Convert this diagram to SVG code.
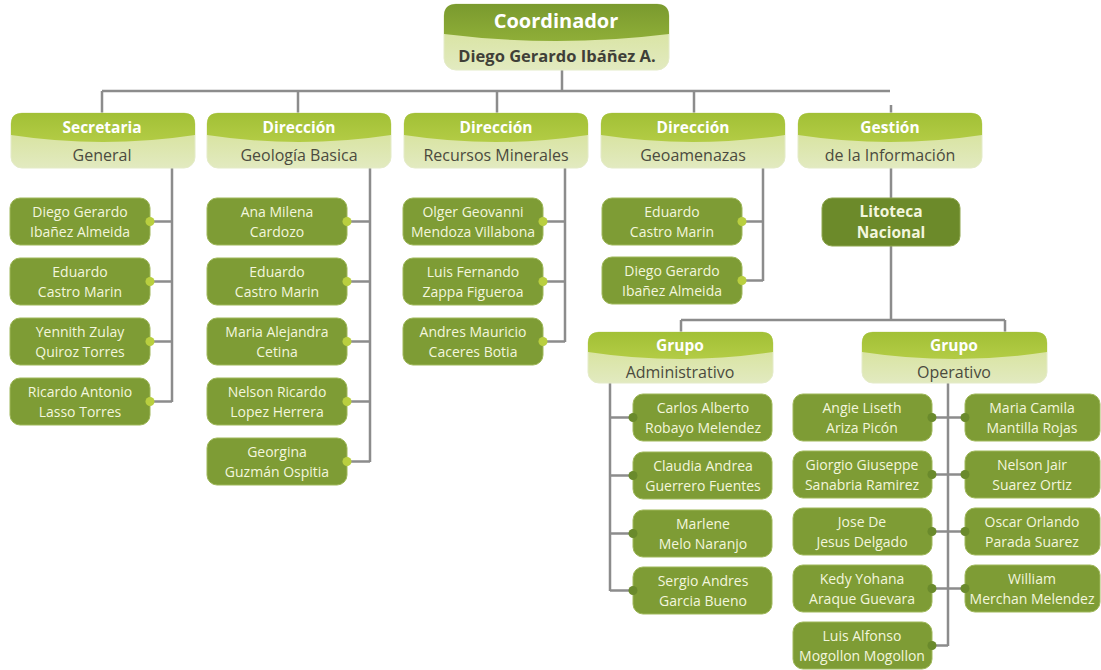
<svg xmlns="http://www.w3.org/2000/svg" xmlns:xlink="http://www.w3.org/1999/xlink" width="1101" height="670" viewBox="0 0 1101 670">
  <style>
    .bg { fill: #ffffff; }
    .wire { fill: none; stroke: #8c8c8c; stroke-width: 2.5; }
    .box { fill: #7e9c35; stroke: #9fb85a; stroke-width: 1; }
    .box-dark { fill: #6c8a2a; stroke: #8ea64e; stroke-width: 1; }
    .hdr-base { fill: url(#paleFill); stroke: #e4ebc8; stroke-width: 1; }
    .hdr-band { fill: url(#bandFill); }
    .top-band { fill: url(#topBandFill); }
    .dot { fill: #b9cf3f; }
    .dot-dark { fill: #6a8a2c; }
    text { font-family: "Open Sans", "Noto Sans", "Liberation Sans", sans-serif; text-anchor: middle; }
    .name { fill: #f3f6dd; font-size: 14px; }
    .hdr-title { fill: #ffffff; font-size: 15.5px; font-weight: bold; }
    .hdr-sub { fill: #4b4b3e; font-size: 16px; }
    .lit { fill: #f3f6dd; font-size: 15.5px; font-weight: bold; }
  </style>
  <defs>
    <linearGradient id="paleFill" x1="0" y1="0" x2="0" y2="1">
      <stop offset="0" stop-color="#d3e08f"/>
      <stop offset="1" stop-color="#e2eac0"/>
    </linearGradient>
    <linearGradient id="bandFill" x1="0" y1="0" x2="0" y2="1">
      <stop offset="0" stop-color="#a2c036"/>
      <stop offset="1" stop-color="#b3cc45"/>
    </linearGradient>
    <linearGradient id="topBandFill" x1="0" y1="0" x2="0" y2="1">
      <stop offset="0" stop-color="#7a9a2e"/>
      <stop offset="1" stop-color="#8fae38"/>
    </linearGradient>
    <!-- two-tone header card, 184 x 55 -->
    <g id="hdr55">
      <rect class="hdr-base" x="0" y="0" width="184" height="55" rx="11"/>
      <path class="hdr-band" d="M0,22 L0,11 Q0,0 11,0 L173,0 Q184,0 184,11 L184,22 Q92,36 0,22 Z"/>
    </g>
    <!-- two-tone header card, 185 x 51 -->
    <g id="hdr51">
      <rect class="hdr-base" x="0" y="0" width="185" height="51" rx="11"/>
      <path class="hdr-band" d="M0,20 L0,11 Q0,0 11,0 L174,0 Q185,0 185,11 L185,20 Q92.5,34 0,20 Z"/>
    </g>
  </defs>

  <rect class="bg" x="0" y="0" width="1101" height="670"/>

  <!-- connectors -->
  <g id="connectors">
    <path class="wire" d="M562,70 V91 M102,91 H890 M102,91 V113 M298,91 V113 M497,91 V113 M694,91 V113 M891,105 V113"/>
    <!-- Secretaria General -->
    <path class="wire" d="M172,168 V402 M150,221.5 H172 M150,281.5 H172 M150,341.5 H172 M150,401.5 H172"/>
    <!-- Geologia Basica -->
    <path class="wire" d="M370,168 V462 M347,221.5 H370 M347,281.5 H370 M347,341.5 H370 M347,401.5 H370 M347,461.5 H370"/>
    <!-- Recursos Minerales -->
    <path class="wire" d="M565,168 V342 M543,221.5 H565 M543,281.5 H565 M543,341.5 H565"/>
    <!-- Geoamenazas -->
    <path class="wire" d="M763,168 V281 M742,221.5 H763 M742,280.5 H763"/>
    <!-- Gestion de la Informacion / Litoteca -->
    <path class="wire" d="M891,168 V198 M891,246 V320 M681,320 H1005 M681,320 V332 M1005,320 V332"/>
    <!-- Grupo Administrativo -->
    <path class="wire" d="M610,383 V591 M610,417.5 H633 M610,475.5 H633 M610,533.5 H633 M610,590.5 H633"/>
    <!-- Grupo Operativo -->
    <path class="wire" d="M948,383 V646 M932,417.5 H965 M932,474.5 H965 M932,531.5 H965 M932,588.5 H965 M932,645.5 H948"/>
  </g>

  <!-- top node -->
  <g id="coordinador">
    <rect class="hdr-base" x="444" y="4" width="225" height="66" rx="12"/>
    <path class="top-band" d="M444,34 L444,16 Q444,4 456,4 L657,4 Q669,4 669,16 L669,34 Q556.5,48 444,34 Z"/>
    <text x="556" y="28" style="fill:#ffffff;font-size:20px;font-weight:bold">Coordinador</text>
    <text x="557" y="62" style="fill:#3f3f38;font-size:16.5px;font-weight:bold">Diego Gerardo Ibáñez A.</text>
  </g>

  <!-- departments -->
  <g id="dept-secretaria">
    <use xlink:href="#hdr55" x="11" y="113"/>
    <text class="hdr-title" x="102" y="133">Secretaria</text>
    <text class="hdr-sub" x="102" y="161">General</text>
  </g>
  <g id="dept-geologia">
    <use xlink:href="#hdr55" x="207" y="113"/>
    <text class="hdr-title" x="299" y="133">Dirección</text>
    <text class="hdr-sub" x="299" y="161">Geología Basica</text>
  </g>
  <g id="dept-recursos">
    <use xlink:href="#hdr55" x="404" y="113"/>
    <text class="hdr-title" x="496" y="133">Dirección</text>
    <text class="hdr-sub" x="496" y="161">Recursos Minerales</text>
  </g>
  <g id="dept-geoamenazas">
    <use xlink:href="#hdr55" x="601" y="113"/>
    <text class="hdr-title" x="693" y="133">Dirección</text>
    <text class="hdr-sub" x="693" y="161">Geoamenazas</text>
  </g>
  <g id="dept-gestion">
    <use xlink:href="#hdr55" x="798" y="113"/>
    <text class="hdr-title" x="890" y="133">Gestión</text>
    <text class="hdr-sub" x="890" y="161">de la Información</text>
  </g>

  <!-- Secretaria General staff -->
  <g id="sec-1"><rect class="box" x="10" y="198" width="140" height="47" rx="10"/><circle class="dot" cx="150" cy="221.5" r="4.5"/><text class="name" x="80" y="217">Diego Gerardo</text><text class="name" x="80" y="237">Ibañez Almeida</text></g>
  <g id="sec-2"><rect class="box" x="10" y="258" width="140" height="47" rx="10"/><circle class="dot" cx="150" cy="281.5" r="4.5"/><text class="name" x="80" y="277">Eduardo</text><text class="name" x="80" y="297">Castro Marin</text></g>
  <g id="sec-3"><rect class="box" x="10" y="318" width="140" height="47" rx="10"/><circle class="dot" cx="150" cy="341.5" r="4.5"/><text class="name" x="80" y="337">Yennith Zulay</text><text class="name" x="80" y="357">Quiroz Torres</text></g>
  <g id="sec-4"><rect class="box" x="10" y="378" width="140" height="47" rx="10"/><circle class="dot" cx="150" cy="401.5" r="4.5"/><text class="name" x="80" y="397">Ricardo Antonio</text><text class="name" x="80" y="417">Lasso Torres</text></g>

  <!-- Geologia Basica staff -->
  <g id="geo-1"><rect class="box" x="207" y="198" width="140" height="47" rx="10"/><circle class="dot" cx="347" cy="221.5" r="4.5"/><text class="name" x="277" y="217">Ana Milena</text><text class="name" x="277" y="237">Cardozo</text></g>
  <g id="geo-2"><rect class="box" x="207" y="258" width="140" height="47" rx="10"/><circle class="dot" cx="347" cy="281.5" r="4.5"/><text class="name" x="277" y="277">Eduardo</text><text class="name" x="277" y="297">Castro Marin</text></g>
  <g id="geo-3"><rect class="box" x="207" y="318" width="140" height="47" rx="10"/><circle class="dot" cx="347" cy="341.5" r="4.5"/><text class="name" x="277" y="337">Maria Alejandra</text><text class="name" x="277" y="357">Cetina</text></g>
  <g id="geo-4"><rect class="box" x="207" y="378" width="140" height="47" rx="10"/><circle class="dot" cx="347" cy="401.5" r="4.5"/><text class="name" x="277" y="397">Nelson Ricardo</text><text class="name" x="277" y="417">Lopez Herrera</text></g>
  <g id="geo-5"><rect class="box" x="207" y="438" width="140" height="47" rx="10"/><circle class="dot" cx="347" cy="461.5" r="4.5"/><text class="name" x="277" y="457">Georgina</text><text class="name" x="277" y="477">Guzmán Ospitia</text></g>

  <!-- Recursos Minerales staff -->
  <g id="rec-1"><rect class="box" x="403" y="198" width="140" height="47" rx="10"/><circle class="dot" cx="543" cy="221.5" r="4.5"/><text class="name" x="473" y="217">Olger Geovanni</text><text class="name" x="473" y="237">Mendoza Villabona</text></g>
  <g id="rec-2"><rect class="box" x="403" y="258" width="140" height="47" rx="10"/><circle class="dot" cx="543" cy="281.5" r="4.5"/><text class="name" x="473" y="277">Luis Fernando</text><text class="name" x="473" y="297">Zappa Figueroa</text></g>
  <g id="rec-3"><rect class="box" x="403" y="318" width="140" height="47" rx="10"/><circle class="dot" cx="543" cy="341.5" r="4.5"/><text class="name" x="473" y="337">Andres Mauricio</text><text class="name" x="473" y="357">Caceres Botia</text></g>

  <!-- Geoamenazas staff -->
  <g id="gam-1"><rect class="box" x="602" y="198" width="140" height="47" rx="10"/><circle class="dot" cx="742" cy="221.5" r="4.5"/><text class="name" x="672" y="217">Eduardo</text><text class="name" x="672" y="237">Castro Marin</text></g>
  <g id="gam-2"><rect class="box" x="602" y="257" width="140" height="47" rx="10"/><circle class="dot" cx="742" cy="280.5" r="4.5"/><text class="name" x="672" y="276">Diego Gerardo</text><text class="name" x="672" y="296">Ibañez Almeida</text></g>

  <!-- Litoteca Nacional -->
  <g id="litoteca">
    <rect class="box-dark" x="822" y="198" width="138" height="48" rx="10"/>
    <text class="lit" x="891" y="217">Litoteca</text>
    <text class="lit" x="891" y="238">Nacional</text>
  </g>

  <!-- groups -->
  <g id="grupo-administrativo">
    <use xlink:href="#hdr51" x="588" y="332"/>
    <text class="hdr-title" x="680" y="351">Grupo</text>
    <text class="hdr-sub" x="680" y="378">Administrativo</text>
  </g>
  <g id="grupo-operativo">
    <use xlink:href="#hdr51" x="862" y="332"/>
    <text class="hdr-title" x="954" y="351">Grupo</text>
    <text class="hdr-sub" x="954" y="378">Operativo</text>
  </g>

  <!-- Grupo Administrativo staff -->
  <g id="adm-1"><rect class="box" x="633" y="394" width="139" height="47" rx="10"/><circle class="dot-dark" cx="633" cy="417.5" r="4.5"/><text class="name" x="703" y="413">Carlos Alberto</text><text class="name" x="703" y="433">Robayo Melendez</text></g>
  <g id="adm-2"><rect class="box" x="633" y="452" width="139" height="47" rx="10"/><circle class="dot-dark" cx="633" cy="475.5" r="4.5"/><text class="name" x="703" y="471">Claudia Andrea</text><text class="name" x="703" y="491">Guerrero Fuentes</text></g>
  <g id="adm-3"><rect class="box" x="633" y="510" width="139" height="47" rx="10"/><circle class="dot-dark" cx="633" cy="533.5" r="4.5"/><text class="name" x="703" y="529">Marlene</text><text class="name" x="703" y="549">Melo Naranjo</text></g>
  <g id="adm-4"><rect class="box" x="633" y="567" width="139" height="47" rx="10"/><circle class="dot-dark" cx="633" cy="590.5" r="4.5"/><text class="name" x="703" y="586">Sergio Andres</text><text class="name" x="703" y="606">Garcia Bueno</text></g>

  <!-- Grupo Operativo staff, left column -->
  <g id="ope-1"><rect class="box" x="793" y="394" width="139" height="47" rx="10"/><circle class="dot-dark" cx="932" cy="417.5" r="4.5"/><text class="name" x="862" y="413">Angie Liseth</text><text class="name" x="862" y="433">Ariza Picón</text></g>
  <g id="ope-2"><rect class="box" x="793" y="451" width="139" height="47" rx="10"/><circle class="dot-dark" cx="932" cy="474.5" r="4.5"/><text class="name" x="862" y="470">Giorgio Giuseppe</text><text class="name" x="862" y="490">Sanabria Ramirez</text></g>
  <g id="ope-3"><rect class="box" x="793" y="508" width="139" height="47" rx="10"/><circle class="dot-dark" cx="932" cy="531.5" r="4.5"/><text class="name" x="862" y="527">Jose De</text><text class="name" x="862" y="547">Jesus Delgado</text></g>
  <g id="ope-4"><rect class="box" x="793" y="565" width="139" height="47" rx="10"/><circle class="dot-dark" cx="932" cy="588.5" r="4.5"/><text class="name" x="862" y="584">Kedy Yohana</text><text class="name" x="862" y="604">Araque Guevara</text></g>
  <g id="ope-5"><rect class="box" x="793" y="622" width="139" height="47" rx="10"/><circle class="dot-dark" cx="932" cy="645.5" r="4.5"/><text class="name" x="862" y="641">Luis Alfonso</text><text class="name" x="862" y="661">Mogollon Mogollon</text></g>

  <!-- Grupo Operativo staff, right column -->
  <g id="ope-6"><rect class="box" x="965" y="394" width="135" height="47" rx="10"/><circle class="dot-dark" cx="965" cy="417.5" r="4.5"/><text class="name" x="1032" y="413">Maria Camila</text><text class="name" x="1032" y="433">Mantilla Rojas</text></g>
  <g id="ope-7"><rect class="box" x="965" y="451" width="135" height="47" rx="10"/><circle class="dot-dark" cx="965" cy="474.5" r="4.5"/><text class="name" x="1032" y="470">Nelson Jair</text><text class="name" x="1032" y="490">Suarez Ortiz</text></g>
  <g id="ope-8"><rect class="box" x="965" y="508" width="135" height="47" rx="10"/><circle class="dot-dark" cx="965" cy="531.5" r="4.5"/><text class="name" x="1032" y="527">Oscar Orlando</text><text class="name" x="1032" y="547">Parada Suarez</text></g>
  <g id="ope-9"><rect class="box" x="965" y="565" width="135" height="47" rx="10"/><circle class="dot-dark" cx="965" cy="588.5" r="4.5"/><text class="name" x="1032" y="584">William</text><text class="name" x="1032" y="604">Merchan Melendez</text></g>
</svg>
